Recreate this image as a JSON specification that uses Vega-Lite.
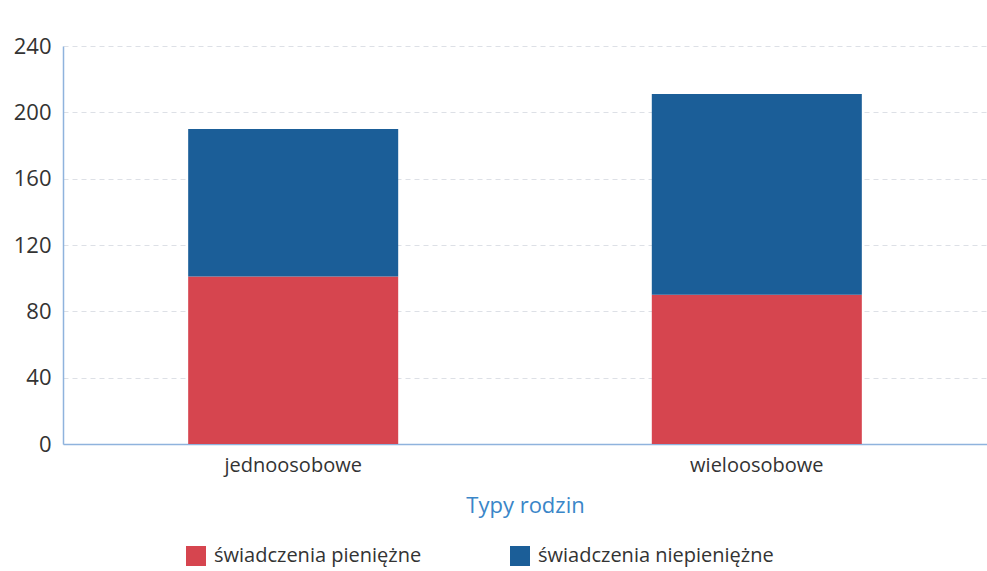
{
  "$schema": "https://vega.github.io/schema/vega-lite/v6.json",
  "autosize": {"type": "none"},
  "padding": {"left": 63, "top": 46, "right": 0, "bottom": 127},
  "width": 924,
  "height": 398,
  "background": "white",
  "config": {
    "font": "Open Sans",
    "view": {"stroke": null}
  },
  "data": {
    "values": [
      {"typ": "jednoosobowe", "rodzaj": "świadczenia pieniężne", "kolejnosc": 1, "wartosc": 101},
      {"typ": "jednoosobowe", "rodzaj": "świadczenia niepieniężne", "kolejnosc": 2, "wartosc": 89},
      {"typ": "wieloosobowe", "rodzaj": "świadczenia pieniężne", "kolejnosc": 1, "wartosc": 90},
      {"typ": "wieloosobowe", "rodzaj": "świadczenia niepieniężne", "kolejnosc": 2, "wartosc": 121}
    ]
  },
  "mark": {"type": "bar"},
  "encoding": {
    "x": {
      "field": "typ",
      "type": "nominal",
      "scale": {"paddingInner": 0.547, "paddingOuter": 0.27},
      "axis": {
        "title": "Typy rodzin",
        "titleColor": "#3a86c8",
        "titleFontSize": 22,
        "titleFontWeight": "normal",
        "titlePadding": 20,
        "labelAngle": 0,
        "labelFontSize": 20,
        "labelColor": "#333333",
        "labelPadding": 11,
        "ticks": false,
        "domainColor": "#8fb3dd",
        "domainWidth": 1.5,
        "grid": false
      }
    },
    "y": {
      "field": "wartosc",
      "type": "quantitative",
      "stack": "zero",
      "scale": {"domain": [0, 240]},
      "axis": {
        "title": null,
        "values": [0, 40, 80, 120, 160, 200, 240],
        "labelFontSize": 22,
        "labelColor": "#333333",
        "labelPadding": 12,
        "ticks": false,
        "domainColor": "#8fb3dd",
        "domainWidth": 1.5,
        "gridColor": "#dde0e6",
        "gridDash": [5, 4],
        "gridWidth": 1
      }
    },
    "order": {"field": "kolejnosc", "type": "quantitative", "sort": "ascending"},
    "color": {
      "field": "rodzaj",
      "type": "nominal",
      "scale": {
        "domain": ["świadczenia pieniężne", "świadczenia niepieniężne"],
        "range": ["#d6454f", "#1b5e98"]
      },
      "legend": {
        "title": null,
        "orient": "none",
        "direction": "horizontal",
        "legendX": 123,
        "legendY": 500,
        "symbolType": "square",
        "symbolSize": 400,
        "symbolStrokeWidth": 0,
        "labelFontSize": 20,
        "labelColor": "#333333",
        "labelOffset": 8,
        "columnPadding": 88,
        "labelLimit": 400
      }
    }
  }
}
